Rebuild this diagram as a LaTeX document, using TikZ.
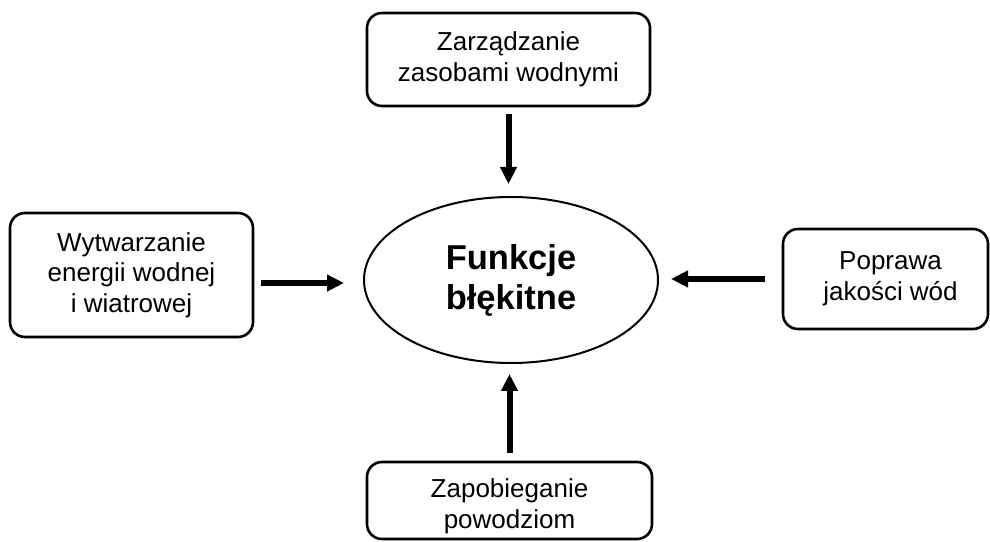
\documentclass[tikz,border=0pt]{standalone}
\usepackage{fontspec}
\setmainfont{Liberation Sans}
\usetikzlibrary{arrows.meta,shapes.geometric}
\begin{document}
\begin{tikzpicture}[x=1pt,y=1pt,
  txt/.style={align=center,font=\fontsize{26}{30.5}\selectfont},
  box/.style={draw,line width=2.6pt,rounded corners=15pt,inner sep=0pt,txt},
  arr/.style={line width=6pt,-{Triangle[length=17pt,width=16pt]}}]
\useasboundingbox (0,0) rectangle (990,541);
\node[box,minimum width=283pt,minimum height=93pt] (top) at (508.5,481.5)
  {Zarządzanie\\zasobami wodnymi};
\node[box,minimum width=243pt,minimum height=124pt] (left) at (131.5,266)
  {Wytwarzanie\\energii wodnej\\i wiatrowej};
\node[box,minimum width=205pt,minimum height=100pt] (right) at (885.5,262)
  {\hspace*{10pt}Poprawa\\\hspace*{10pt}jakości wód};
\node[box,minimum width=285pt,minimum height=77pt,
  label={[txt,yshift=-6pt]center:{Zapobieganie\\powodziom}}] (bot) at (509.5,40.5) {};
\node[ellipse,draw,line width=2pt,inner sep=0pt,minimum width=294pt,minimum height=166pt,
  align=center,font=\fontsize{34.5}{40}\selectfont\bfseries] (ell) at (511,261)
  {Funkcje\\błękitne};
\draw[arr,shorten <=7pt,shorten >=12pt] (top.south) -- (top.south |- ell.north);
\draw[arr,shorten <=7pt,shorten >=19pt] ([yshift=-8pt]left.east) -- ([yshift=-8pt]left.east -| ell.west);
\draw[arr,shorten <=17pt,shorten >=12pt] (right.west) -- (right.west -| ell.east);
\draw[arr,shorten <=8pt,shorten >=10pt] (bot.north) -- (bot.north |- ell.south);
\end{tikzpicture}
\end{document}
